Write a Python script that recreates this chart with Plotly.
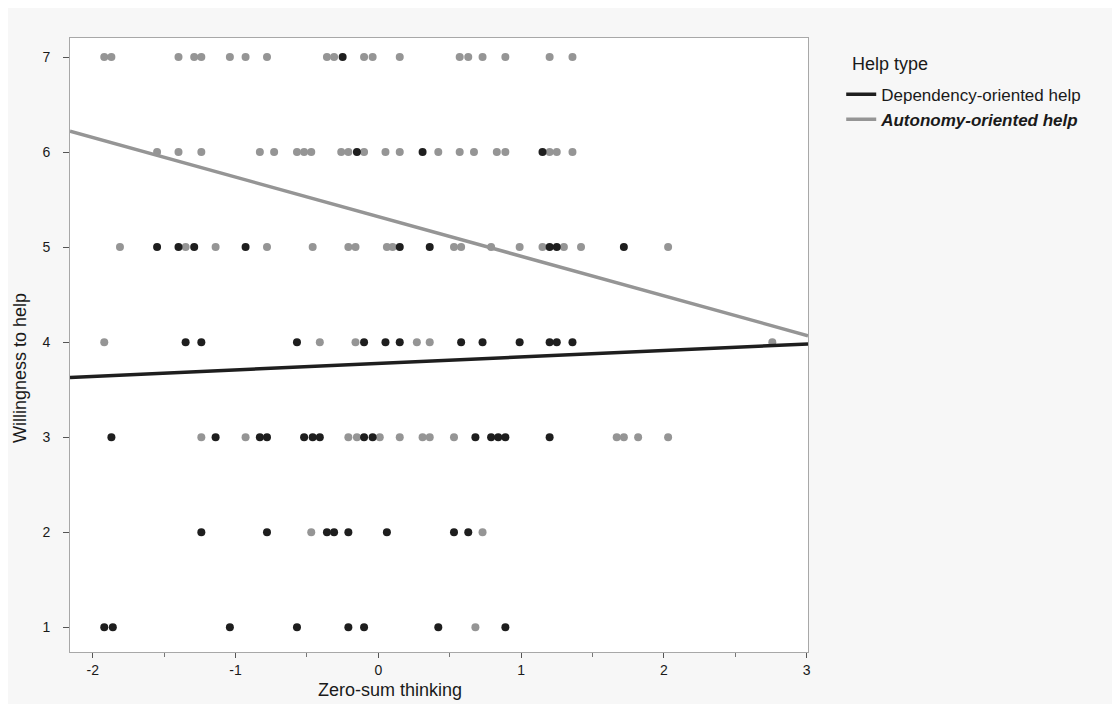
import plotly.graph_objects as go

# ---- data ----
# Dependency-oriented help (black points)
dep_x = [-0.25,
         -0.15, 0.31, 1.15,
         -1.55, -1.40, -1.29, -0.93, 0.15, 0.36, 1.20, 1.25, 1.72,
         -1.35, -1.24, -0.57, -0.10, 0.05, 0.15, 0.58, 0.73, 0.99, 1.20, 1.25, 1.36,
         -1.87, -1.14, -0.83, -0.78, -0.52, -0.46, -0.41, -0.10, -0.04, 0.68, 0.79, 0.84, 0.89, 1.20,
         -1.24, -0.78, -0.36, -0.31, -0.21, 0.06, 0.53, 0.63,
         -1.92, -1.86, -1.04, -0.57, -0.21, -0.10, 0.42, 0.89]
dep_y = [7,
         6, 6, 6,
         5, 5, 5, 5, 5, 5, 5, 5, 5,
         4, 4, 4, 4, 4, 4, 4, 4, 4, 4, 4, 4,
         3, 3, 3, 3, 3, 3, 3, 3, 3, 3, 3, 3, 3, 3,
         2, 2, 2, 2, 2, 2, 2, 2,
         1, 1, 1, 1, 1, 1, 1, 1]

# Autonomy-oriented help (gray points)
aut_x = [-1.92, -1.87, -1.40, -1.29, -1.24, -1.04, -0.93, -0.78, -0.36, -0.31, -0.10, -0.04, 0.15,
         0.57, 0.63, 0.73, 0.89, 1.20, 1.36,
         -1.55, -1.40, -1.24, -0.83, -0.73, -0.57, -0.52, -0.47, -0.26, -0.21, -0.10, 0.05, 0.15, 0.42,
         0.57, 0.67, 0.83, 0.89, 1.20, 1.25, 1.36,
         -1.81, -1.35, -1.14, -0.78, -0.46, -0.21, -0.16, 0.06, 0.10, 0.53, 0.58, 0.79, 0.99, 1.15, 1.30, 1.42, 2.03,
         -1.92, -0.41, -0.16, 0.27, 0.36, 2.76,
         -1.24, -0.93, -0.21, -0.15, 0.01, 0.15, 0.31, 0.36, 0.53, 1.67, 1.72, 1.82, 2.03,
         -0.47, 0.73,
         0.68]
aut_y = [7, 7, 7, 7, 7, 7, 7, 7, 7, 7, 7, 7, 7,
         7, 7, 7, 7, 7, 7,
         6, 6, 6, 6, 6, 6, 6, 6, 6, 6, 6, 6, 6, 6,
         6, 6, 6, 6, 6, 6, 6,
         5, 5, 5, 5, 5, 5, 5, 5, 5, 5, 5, 5, 5, 5, 5, 5, 5,
         4, 4, 4, 4, 4, 4,
         3, 3, 3, 3, 3, 3, 3, 3, 3, 3, 3, 3, 3,
         2, 2,
         1]

# Fitted lines (intercept, slope)
dep_fit = (3.776, 0.068)
aut_fit = (5.32, -0.416)
x_range = [-2.16, 3.01]
y_range = [0.74, 7.2]

x_ticks = [-2, -1, 0, 1, 2, 3]
y_ticks = [1, 2, 3, 4, 5, 6, 7]

BLACK = "#1e1e1e"
GRAY = "#959595"
TXT = "#1a1a1a"

fig = go.Figure()

fig.add_trace(go.Scatter(x=aut_x, y=aut_y, mode="markers",
                         marker=dict(color=GRAY, size=8), showlegend=False,
                         hoverinfo="skip"))
fig.add_trace(go.Scatter(x=dep_x, y=dep_y, mode="markers",
                         marker=dict(color=BLACK, size=8), showlegend=False,
                         hoverinfo="skip"))

line_x = x_range
fig.add_trace(go.Scatter(x=line_x, y=[dep_fit[0] + dep_fit[1] * v for v in line_x],
                         mode="lines", line=dict(color=BLACK, width=3.5),
                         name="Dependency-oriented help"))
fig.add_trace(go.Scatter(x=line_x, y=[aut_fit[0] + aut_fit[1] * v for v in line_x],
                         mode="lines", line=dict(color=GRAY, width=3.5),
                         name="<b><i>Autonomy-oriented help</i></b>"))

fig.update_layout(
    width=1120, height=704,
    margin=dict(l=62, r=320, t=30, b=60),
    paper_bgcolor="#f7f7f7",
    plot_bgcolor="white",
    font=dict(family="Liberation Sans, Arial, sans-serif", size=14, color=TXT),
    legend=dict(
        x=1.045, y=0.937, xanchor="left", yanchor="top",
        bgcolor="rgba(0,0,0,0)",
        font=dict(size=17, color=TXT),
        itemwidth=30,
        tracegroupgap=0,
    ),
    xaxis=dict(
        range=x_range, tickvals=x_ticks, ticktext=[str(v) for v in x_ticks],
        showgrid=False, zeroline=False,
        showline=True, linecolor="#a8a8a8", linewidth=1, mirror=True,
        ticks="outside", ticklen=5, tickcolor="#555555",
        minor=dict(ticks="outside", ticklen=4, tickcolor="#777777", dtick=0.5, showgrid=False),
        tickfont=dict(size=14),
        ticklabelstandoff=0,
    ),
    yaxis=dict(
        range=y_range, tickvals=y_ticks, ticktext=[str(v) for v in y_ticks],
        showgrid=False, zeroline=False,
        showline=True, linecolor="#a8a8a8", linewidth=1, mirror=True,
        ticks="outside", ticklen=6, tickcolor="#555555",
        tickfont=dict(size=14),
        ticklabelstandoff=10,
    ),
    annotations=[
        dict(text="Zero-sum thinking", xref="paper", yref="paper",
             x=0.4336, y=-0.0619, xanchor="center", yanchor="middle",
             showarrow=False, font=dict(size=18, color=TXT)),
        dict(text="Willingness to help", xref="paper", yref="paper",
             x=-0.0678, y=0.4625, xanchor="center", yanchor="middle",
             textangle=-90, showarrow=False, font=dict(size=18, color=TXT)),
        dict(text="Help type", xref="paper", yref="paper",
             x=1.057, y=0.958, xanchor="left", yanchor="middle",
             showarrow=False, font=dict(size=18, color=TXT)),
    ],
)

fig.write_html("out.html")
